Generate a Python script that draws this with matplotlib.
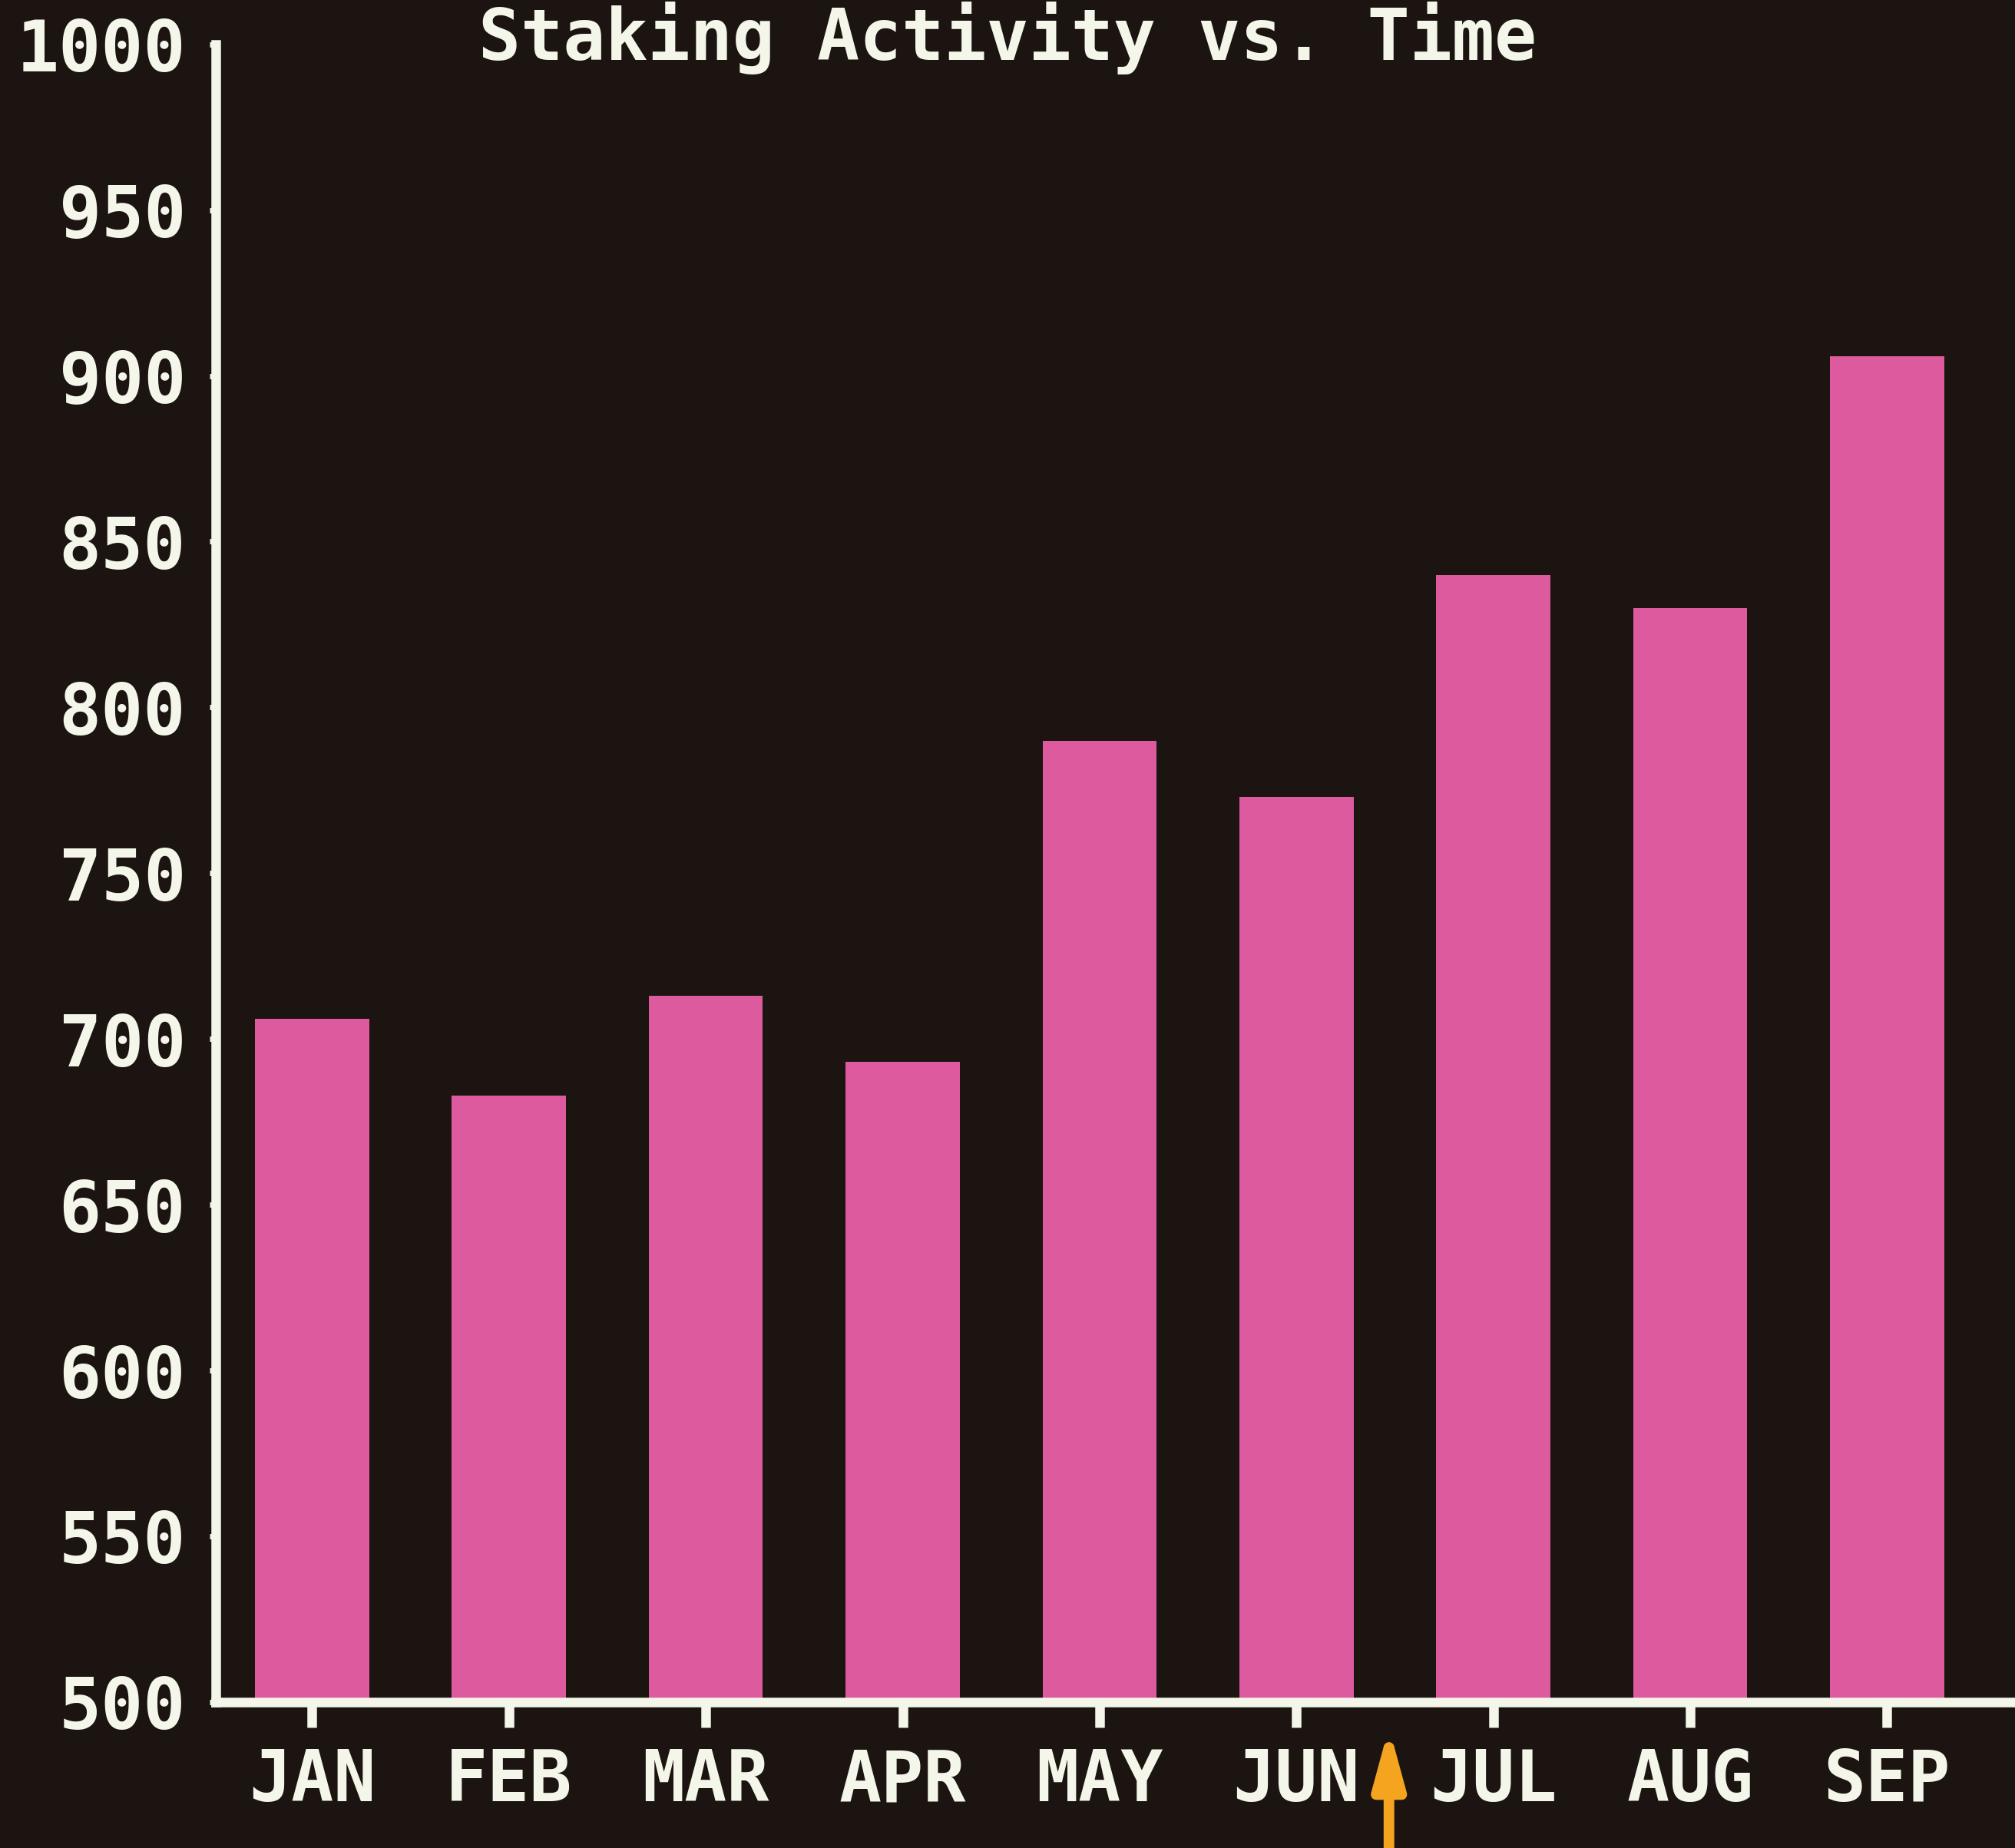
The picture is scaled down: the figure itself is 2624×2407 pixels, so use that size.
import matplotlib
matplotlib.use("Agg")
import matplotlib.pyplot as plt
import numpy as np

# ─── Datos ──────────────────────────────────────────────────────────────────
months = ["JAN", "FEB", "MAR", "APR", "MAY", "JUN", "JUL", "AUG", "SEP"]
activity = [706, 683, 713, 693, 790, 773, 840, 830, 906]
yticks = [500, 550, 600, 650, 700, 750, 800, 850, 900, 950, 1000]
title = "Staking Activity vs. Time"

bg = "#1b1411"
pink = "#dc5a9d"
fg = "#f4f6ea"
orange = "#f5a41f"
font = "DejaVu Sans Mono"

fig = plt.figure(figsize=(26.24, 24.07), dpi=100, facecolor=bg)
ax = fig.add_axes([0.107, 0.079, 0.893, 0.897], facecolor=bg)

x = np.arange(len(months))
ax.bar(x, activity, width=0.58, bottom=0, color=pink, linewidth=0, zorder=2)

ax.set_ylim(500, 1000)
ax.set_xlim(-0.49, 8.65)
ax.set_yticks(yticks)
ax.set_yticklabels([str(v) for v in yticks], fontsize=66, fontweight="bold",
                   color=fg, family=font)
ax.set_xticks(x)
ax.set_xticklabels(months, fontsize=66, fontweight="bold", color=fg, family=font)

ax.tick_params(axis="x", direction="out", length=24, width=9, color=fg, pad=18)
ax.tick_params(axis="y", direction="out", length=6, width=5, color=fg, pad=22)

for side in ["top", "right"]:
    ax.spines[side].set_visible(False)
for side in ["left", "bottom"]:
    ax.spines[side].set_color(fg)
    ax.spines[side].set_linewidth(9)
    ax.spines[side].set_zorder(3)

# Titulo pegado al borde superior
fig.text(0.50, 0.999, title, ha="center", va="top", fontsize=66,
         fontweight="bold", color=fg, family=font)

# Flecha naranja entre JUN y JUL
ax.annotate("", xy=(5.47, 493), xytext=(5.47, 455),
            xycoords="data", textcoords="data", annotation_clip=False,
            arrowprops=dict(arrowstyle="-|>,head_width=0.3,head_length=1.1",
                            mutation_scale=40, color=orange, linewidth=10))

fig.savefig("out.png", dpi=100, facecolor=bg)
